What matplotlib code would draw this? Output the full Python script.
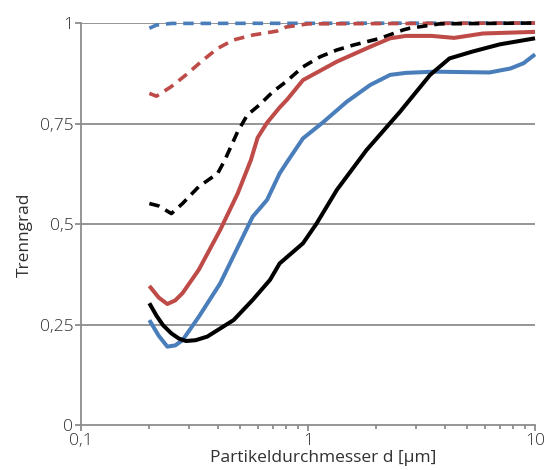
import numpy as np
import matplotlib
matplotlib.use('Agg')
import matplotlib.pyplot as plt

plt.rcParams['font.family'] = ['Open Sans', 'DejaVu Sans']
plt.rcParams['font.weight'] = 'light'

# particle diameter d [um] and separation efficiency
d_red = [0.2, 0.22, 0.24, 0.26, 0.28, 0.33, 0.41, 0.49, 0.56, 0.6, 0.66, 0.75, 0.81,
         0.95, 1.34, 1.88, 2.3, 2.7, 3.5, 4.4, 5.9, 10]
v_red = [0.346, 0.317, 0.301, 0.31, 0.328, 0.386, 0.485, 0.576, 0.659, 0.715, 0.752,
         0.79, 0.81, 0.858, 0.904, 0.941, 0.962, 0.968, 0.968, 0.963, 0.974, 0.978]

d_blue = [0.2, 0.22, 0.24, 0.26, 0.28, 0.33, 0.41, 0.5, 0.57, 0.66, 0.75, 0.81, 0.95,
          1.17, 1.48, 1.88, 2.3, 2.7, 3.6, 6.3, 7.8, 8.9, 10]
v_blue = [0.261, 0.222, 0.195, 0.198, 0.211, 0.269, 0.352, 0.452, 0.518, 0.56, 0.626,
          0.655, 0.713, 0.754, 0.804, 0.846, 0.871, 0.876, 0.879, 0.877, 0.887, 0.9, 0.922]

d_black = [0.2, 0.215, 0.23, 0.25, 0.27, 0.29, 0.32, 0.36, 0.47, 0.57, 0.68, 0.75,
           0.95, 1.09, 1.34, 1.81, 2.54, 3.45, 4.2, 5.3, 7, 10]
v_black = [0.303, 0.272, 0.248, 0.228, 0.215, 0.209, 0.211, 0.22, 0.261, 0.311, 0.361,
           0.402, 0.452, 0.501, 0.585, 0.684, 0.779, 0.871, 0.912, 0.929, 0.947, 0.962]

d_black_d = [0.2, 0.22, 0.25, 0.28, 0.33, 0.4, 0.43, 0.49, 0.54, 0.61, 0.7, 0.8, 0.95,
             1.13, 1.34, 1.58, 2.08, 2.63, 2.8, 3.8, 10]
v_black_d = [0.551, 0.545, 0.526, 0.551, 0.593, 0.626, 0.659, 0.73, 0.771, 0.796,
             0.829, 0.854, 0.891, 0.916, 0.933, 0.945, 0.962, 0.983, 0.987, 0.998, 1.0]

d_red_d = [0.2, 0.215, 0.25, 0.29, 0.345, 0.4, 0.47, 0.57, 0.73, 0.8, 1.0, 10]
v_red_d = [0.825, 0.818, 0.842, 0.871, 0.908, 0.937, 0.958, 0.97, 0.98, 0.99, 0.998, 1.0]

d_blue_d = [0.2, 0.215, 0.25, 10]
v_blue_d = [0.987, 0.995, 0.999, 1.0]

yticks = [0, 0.25, 0.5, 0.75, 1]
ytick_labels = ['0', '0,25', '0,5', '0,75', '1']
xticks = [0.1, 1, 10]
xtick_labels = ['0,1', '1', '10']

red = '#BE4B48'
blue = '#4A7EBB'
grey = '#8C8C8C'
text_col = '#303030'

fig = plt.figure(figsize=(5.53, 4.70), dpi=100)
ax = fig.add_axes([0.1465, 0.0957, 0.821, 0.8553])

for yv in yticks[1:]:
    ax.axhline(yv, color=grey, lw=1.3, zorder=1)

dash = dict(ls=(0, (2.9, 1.9)), lw=2.6, dash_capstyle='butt', clip_on=False, zorder=3)
ax.plot(d_blue_d, v_blue_d, color=blue, **dash)
ax.plot(d_red_d, v_red_d, color=red, **dash)
ax.plot(d_black_d, v_black_d, color='black', **dash)

solid = dict(lw=2.9, solid_capstyle='butt', solid_joinstyle='round', clip_on=False, zorder=3)
ax.plot(d_blue, v_blue, color=blue, **solid)
ax.plot(d_red, v_red, color=red, **solid)
ax.plot(d_black, v_black, color='black', **solid)

ax.set_xscale('log')
ax.set_xlim(0.1, 10)
ax.set_ylim(0, 1)
ax.set_xticks(xticks)
ax.set_xticklabels(xtick_labels)
ax.set_yticks(yticks)
ax.set_yticklabels(ytick_labels)

for s in ['top', 'right']:
    ax.spines[s].set_visible(False)
for s in ['left', 'bottom']:
    ax.spines[s].set_color(grey)
    ax.spines[s].set_linewidth(1.3)

ax.tick_params(axis='both', which='major', direction='out', length=4, width=1.3,
               color=grey, labelsize=12.5, labelcolor=text_col, pad=1.5)
ax.tick_params(axis='x', which='minor', direction='out', length=3, width=1.3, color=grey)
ax.tick_params(axis='y', which='minor', left=False)

ax.set_xlabel('Partikeldurchmesser d [μm]', fontsize=12.5, color=text_col)
ax.set_ylabel('Trenngrad', fontsize=12.5, color=text_col)
ax.xaxis.set_label_coords(0.5345, -0.062)
ax.yaxis.set_label_coords(-0.105, 0.473)

fig.savefig('out.png', dpi=100)
